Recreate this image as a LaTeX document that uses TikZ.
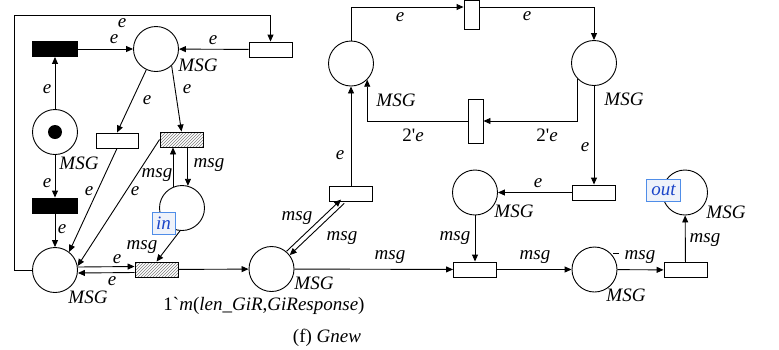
\documentclass[tikz,border=0pt]{standalone}
\usepackage{fontspec}
\setmainfont{Liberation Serif}
\usetikzlibrary{arrows.meta,patterns}
\definecolor{portblue}{HTML}{4F8DE8}
\definecolor{portfill}{HTML}{EEF2FA}
\definecolor{porttext}{HTML}{1A44C8}
\begin{document}
\begin{tikzpicture}[x=1pt,y=-1pt,line width=0.9pt,
  every node/.style={font=\fontsize{19}{21}\selectfont},
  place/.style={draw,circle,minimum size=45pt,inner sep=0pt},
  trans/.style={draw,rectangle,minimum width=43pt,minimum height=15pt,inner sep=0pt},
  vtrans/.style={draw,rectangle,minimum width=15pt,inner sep=0pt},
  btrans/.style={trans,fill=black,minimum width=45pt},
  hatch/.style={trans,preaction={fill=white},pattern=north east lines,pattern color=gray},
  lbl/.style={font=\fontsize{19}{21}\selectfont\itshape,inner sep=0pt},
  arc/.style={-{Triangle[length=7pt,width=6pt]}},
  portbox/.style={draw=portblue,fill=portfill,text=porttext,line width=1pt,inner sep=0pt,
    minimum height=22pt,font=\fontsize{19}{21}\selectfont\itshape}
]
\useasboundingbox (0,0) rectangle (779,349);

% places
\node[place] (pa) at (156,49) {};
\node[place] (pinit) at (55,132) {};
\node[circle,fill=black,minimum size=14pt,inner sep=0pt] (tok) at (pinit) {};
\node[place] (pl) at (55,270) {};
\node[place] (pin) at (182,208) {};
\node[place] (pmid) at (271.5,269) {};
\node[place] (ptl) at (351,63.5) {};
\node[place] (ptr) at (594,63) {};
\node[place] (pr1) at (475,192.5) {};
\node[place] (pr2) at (594.5,269.5) {};
\node[place] (pout) at (685,192.5) {};

% transitions
\node[btrans] (t1) at (55,49) {};
\node[trans] (t2) at (270.5,49.5) {};
\node[trans,minimum width=42pt] (t3) at (117,140.5) {};
\node[hatch] (t4) at (181.5,139.5) {};
\node[btrans] (t5) at (55,205.5) {};
\node[hatch] (t6) at (156.5,269.5) {};
\node[trans] (t7) at (351,193.5) {};
\node[vtrans,minimum height=29pt] (ttop) at (471.5,15) {};
\node[vtrans,minimum height=44pt] (tmid) at (475.5,121) {};
\node[trans] (t8) at (475,269.5) {};
\node[trans] (t9) at (594,192.5) {};
\node[trans] (t10) at (685.5,270) {};

% port boxes
\node[portbox,minimum width=23pt] (inbox) at (163.5,223) {in};
\node[portbox,minimum width=34pt] (outbox) at (663.5,190) {out};

% arcs
\draw[arc] (pl.west) -| (14,15) -| (t2.north);
\draw[arc] (t1) -- (pa);
\draw[arc] (t2) -- (pa);
\draw[arc] (pinit) -- (t1);
\draw[arc] (pinit) -- (t5);
\draw[arc] (t5) -- (pl);
\draw[arc] (pa) -- (t3.north);
\draw[arc] (pa.-47) -- (t4.north);
\draw[arc] (t3.south) -- (pl.52);
\draw[arc] (t4.west) -- (pl.10);
\draw[arc] (pin.113) -- (pin.113 |- t4.south);
\draw[arc] (pin.75 |- t4.south) -- (pin.75);
\draw[arc] (pin.-95) -- (t6.north);
\draw[arc] ([yshift=3pt]pl.east) -- ([yshift=3pt]t6.west);
\draw[arc] ([yshift=-3pt]t6.west) -- ([yshift=-3pt]pl.east);
\draw[arc] (t6) -- (pmid);
\draw[arc,transform canvas={shift={(-1.6pt,1.9pt)}}] (pmid) -- (t7);
\draw[arc,transform canvas={shift={(1.6pt,-1.9pt)}}] (t7) -- (pmid);
\draw[arc] (t7.north) -- (ptl.south);
\draw[arc] (ptl.north) |- ([yshift=8pt]ttop.west);
\draw[arc] ([yshift=8pt]ttop.east) -| (ptr.north);
\draw[arc] (ptr.south west) |- (tmid.east);
\draw[arc] (tmid.west) -| (ptl.south east);
\draw[arc] (ptr.south) -- (t9.north);
\draw[arc] (t9) -- (pr1);
\draw[arc] (pr1) -- (t8);
\draw[arc] (pmid) -- (t8);
\draw[arc] (t8) -- (pr2);
\draw[arc] (pr2) -- (t10);
\draw[arc] (t10) -- (pout);
\draw (613,253) -- (619,253);

% labels
\node[lbl] (l1) at (122,23) {e};
\node[lbl] (l2) at (114,39) {e};
\node[lbl] (l3) at (213,40) {e};
\node[lbl] (l4) at (198,65) {MSG};
\node[lbl] (l5) at (47,89) {e};
\node[lbl] (l6) at (147,100) {e};
\node[lbl] (l7) at (187,89) {e};
\node[lbl] (l8) at (79,163) {MSG};
\node[lbl] (l9) at (209,165) {msg};
\node[lbl] (l10) at (157,175) {msg};
\node[lbl] (l11) at (47,183) {e};
\node[lbl] (l12) at (89,191) {e};
\node[lbl] (l13) at (135,191) {e};
\node[lbl] (l14) at (62,229) {e};
\node[lbl] (l15) at (142,247) {msg};
\node[lbl] (l16) at (117,259) {e};
\node[lbl] (l17) at (112,281) {e};
\node[lbl] (l18) at (88,297) {MSG};
\node[inner sep=0pt] (l19) at (264,306) {1\textasciigrave\textit{m}(\textit{len\_GiR},\textit{GiResponse})};
\node[lbl] (l20) at (297,218) {msg};
\node[lbl] (l21) at (342,238) {msg};
\node[lbl] (l22) at (390,257) {msg};
\node[lbl] (l23) at (314,283) {MSG};
\node[lbl] (l24) at (455,238) {msg};
\node[lbl] (l25) at (514,211) {MSG};
\node[lbl] (l26) at (538,183) {e};
\node[lbl] (l27) at (535,257) {msg};
\node[lbl] (l28) at (640,257) {msg};
\node[lbl] (l29) at (626,295) {MSG};
\node[lbl] (l30) at (705,240) {msg};
\node[lbl] (l31) at (726,212) {MSG};
\node[lbl] (l32) at (400,17) {e};
\node[lbl] (l33) at (527,16) {e};
\node[lbl] (l34) at (396,100) {MSG};
\node[lbl] (l35) at (624,99) {MSG};
\node[inner sep=0pt] (l36) at (413,135) {2\textquotesingle\textit{e}};
\node[inner sep=0pt] (l37) at (547,135) {2\textquotesingle\textit{e}};
\node[lbl] (l38) at (585,147) {e};
\node[lbl] (l39) at (340,155) {e};
\node[inner sep=0pt] (cap) at (327,338) {(f) \textit{Gnew}};
\end{tikzpicture}
\end{document}
